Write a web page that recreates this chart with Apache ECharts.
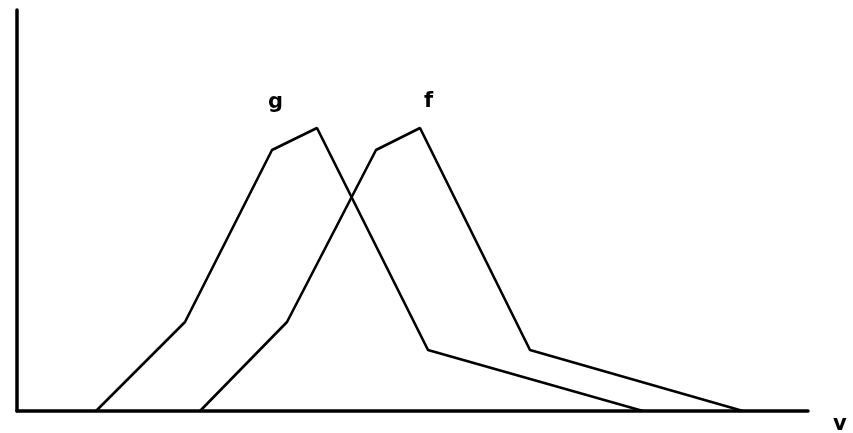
<!DOCTYPE html>
<html>
<head>
<meta charset="utf-8">
<script src="https://cdn.jsdelivr.net/npm/echarts@6/dist/echarts.min.js"></script>
<style>html,body{margin:0;padding:0;background:#fff}#c{width:853px;height:433px}</style>
</head>
<body>
<div id="c"></div>
<script>
const gX = [79, 168, 255, 300, 411, 626];
const gY = [0, 89, 261, 283, 61, 0];
const fX = [183, 270, 359, 403, 513, 726];
const fY = [0, 89, 261, 283, 61, 0];
const seriesNames = ['g', 'f'];
const axisLabel = 'v';

const chart = echarts.init(document.getElementById('c'));
const lineStyle = {color: '#000', width: 2.6};
chart.setOption({
  animation: false,
  grid: {left: 17, right: 45, top: 10, bottom: 22},
  xAxis: {type: 'value', min: 0, max: 791,
    axisLine: {show: true, onZero: false, lineStyle: {color: '#000', width: 3.5}},
    axisTick: {show: false}, axisLabel: {show: false}, splitLine: {show: false}},
  yAxis: {type: 'value', min: 0, max: 401,
    axisLine: {show: true, onZero: false, lineStyle: {color: '#000', width: 3.5}},
    axisTick: {show: false}, axisLabel: {show: false}, splitLine: {show: false}},
  series: [
    {name: seriesNames[0], type: 'line', symbol: 'none', lineStyle: lineStyle,
     data: gX.map((x, i) => [x, gY[i]])},
    {name: seriesNames[1], type: 'line', symbol: 'none', lineStyle: lineStyle,
     data: fX.map((x, i) => [x, fY[i]])}
  ],
  graphic: [
    {type: 'text', left: 268, top: 92, style: {text: seriesNames[0], fill: '#000', font: 'bold 21px "DejaVu Sans"'}},
    {type: 'text', left: 424, top: 91, style: {text: seriesNames[1], fill: '#000', font: 'bold 21px "DejaVu Sans"'}},
    {type: 'text', left: 833, top: 414, style: {text: axisLabel, fill: '#000', font: 'bold 21px "DejaVu Sans"'}}
  ]
});
</script>
</body>
</html>
